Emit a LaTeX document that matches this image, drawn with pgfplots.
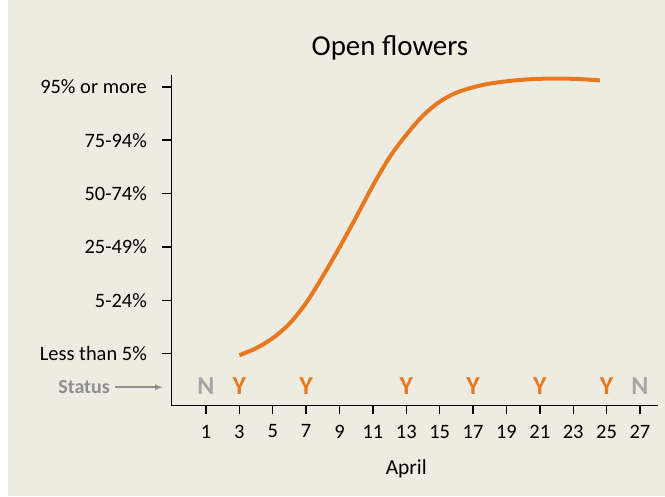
\documentclass[border=0pt]{standalone}
\usepackage{pgfplots}
\pgfplotsset{compat=1.18}
\usepackage{fontspec}
\setmainfont{Carlito}
\usetikzlibrary{backgrounds}
\definecolor{bgc}{HTML}{EEEBE1}
\definecolor{orng}{HTML}{E8781E}
\definecolor{ngrey}{HTML}{A6A6A6}
\definecolor{sgrey}{HTML}{8F8F8F}
\begin{document}
\begin{tikzpicture}
\begin{axis}[
  scale only axis,
  width=486.5bp, height=330bp,
  xmin=-1.07, xmax=28.10,
  ymin=-0.97, ymax=5.22,
  axis lines=left,
  axis line style={line width=1.6bp, -},
  clip=false,
  xtick={1,3,...,27},
  ytick={0,1,2,3,4,5},
  yticklabels={Less than 5\%,5-24\%,25-49\%,50-74\%,75-94\%,95\% or more},
  tick align=outside,
  major tick length=9bp,
  tick style={line width=1.4bp, black},
  ticklabel style={font=\fontsize{20.5}{24}\selectfont},
  /pgf/number format/assume math mode=true,
  yticklabel style={anchor=east, xshift=-12bp},
  xticklabel style={anchor=north, yshift=-7bp},
]
\coordinate (bl) at (axis cs:-11.34,-2.677);
\coordinate (tr) at (axis cs:28.50,6.627);
\coordinate (wl) at (axis cs:-10.86,6.627);

\addplot[orng, line width=4bp, smooth, tension=0.5] coordinates {
(3,-0.03) (4,0.1) (5,0.29) (6,0.56) (7,0.95) (8,1.45) (9,1.99) (10,2.56)
(11,3.15) (12,3.68) (13,4.1) (14,4.46) (15,4.72) (16,4.89) (17,4.99)
(18,5.06) (19.5,5.12) (21,5.15) (23,5.15) (24.6,5.12)
};

\addplot[only marks, mark=none, nodes near coords, point meta=explicit symbolic,
  every node near coord/.style={anchor=center, text=ngrey, font=\fontsize{26}{30}\selectfont\bfseries}]
  table[meta=s] {
x y s
1 -0.6 N
27 -0.6 N
};
\addplot[only marks, mark=none, nodes near coords, point meta=explicit symbolic,
  every node near coord/.style={anchor=center, text=orng, font=\fontsize{26}{30}\selectfont\bfseries}]
  table[meta=s] {
x y s
3 -0.6 Y
7 -0.6 Y
13 -0.6 Y
17 -0.6 Y
21 -0.6 Y
25 -0.6 Y
};

\node[anchor=east, text=sgrey, font=\fontsize{20}{24}\selectfont\bfseries, inner sep=0pt] at (axis cs:-4.75,-0.63) {Status};
\draw[sgrey, line width=1.6bp, -latex] (axis cs:-4.45,-0.63) -- (axis cs:-1.6,-0.63);
\node[font=\fontsize{29}{33}\selectfont] at (axis cs:12.02,5.73) {Open flowers};
\node[font=\fontsize{21.5}{25}\selectfont] at (axis cs:13.0,-2.15) {April};
\end{axis}
\begin{pgfonlayer}{background}
\fill[white] (bl) rectangle (tr);
\fill[bgc] (wl |- bl) rectangle (tr);
\end{pgfonlayer}
\pgfresetboundingbox
\useasboundingbox (bl) rectangle (tr);
\end{tikzpicture}
\end{document}
